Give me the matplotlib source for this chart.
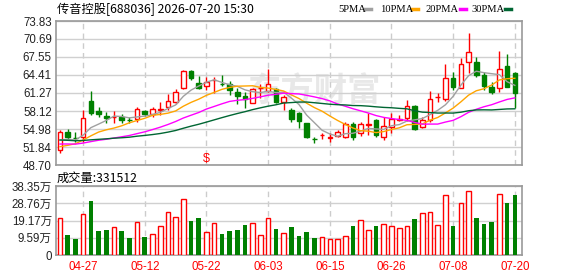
import numpy as np
import pandas as pd
import matplotlib
matplotlib.use('Agg')
import matplotlib.pyplot as plt
from matplotlib.patches import Rectangle
from matplotlib.lines import Line2D

plt.rcParams['font.family'] = ['Liberation Sans', 'Noto Sans CJK SC', 'DejaVu Sans']

# closes before the visible window, only used to feed the moving averages
prior_close = [55.2, 55.8, 55.0, 54.6, 54.9, 54.3, 53.8, 54.2, 53.6, 53.2,
               53.5, 53.9, 53.1, 52.6, 52.9, 53.4, 52.8, 52.2, 52.0, 51.9,
               51.2, 50.6, 50.3, 50.5, 51.0, 52.9, 54.1, 52.6, 51.19]

opens = [51.32, 54.51, 53.36, 53.53, 59.87, 58.18, 57.25, 57.13, 57.13, 56.50,
         56.67, 58.12, 57.55, 58.30, 58.77, 59.75, 62.08, 65.16, 62.96, 62.40,
         63.53, 62.84, 62.75, 61.44, 60.74, 59.57, 62.14, 61.67, 61.91, 59.75,
         58.30, 57.83, 55.98, 53.18, 53.85, 53.45, 53.81, 53.64, 55.80, 54.23,
         55.75, 56.55, 53.59, 55.28, 56.59, 56.85, 59.00, 55.33, 56.47, 60.51,
         60.22, 63.83, 62.19, 66.62, 66.62, 64.41, 62.36, 62.08, 65.98, 64.81]
highs = [54.81, 54.93, 54.51, 58.30, 61.61, 58.87, 57.90, 58.12, 57.60, 57.02,
         58.87, 58.30, 58.87, 59.75, 61.09, 61.91, 65.28, 65.28, 64.23, 64.00,
         64.00, 64.41, 63.41, 62.08, 61.49, 62.08, 62.84, 65.40, 62.08, 60.92,
         58.59, 58.00, 56.03, 53.64, 54.34, 54.23, 54.81, 56.26, 56.26, 56.26,
         57.72, 56.67, 57.13, 57.72, 57.34, 60.13, 59.17, 57.13, 61.61, 61.26,
         66.33, 64.88, 67.32, 71.68, 67.49, 64.98, 63.24, 68.59, 68.07, 64.98]
lows = [50.74, 53.06, 52.77, 52.77, 57.43, 57.02, 55.98, 55.98, 56.08, 55.98,
        56.26, 57.30, 57.13, 57.43, 58.30, 59.29, 61.91, 63.53, 61.91, 61.79,
        61.21, 62.49, 60.92, 59.34, 58.59, 59.47, 60.39, 61.49, 59.57, 58.30,
        56.26, 55.10, 53.36, 52.59, 53.18, 52.77, 53.64, 53.46, 53.06, 53.76,
        53.93, 53.64, 53.06, 54.34, 56.38, 56.38, 54.81, 55.10, 56.12, 59.75,
        59.87, 61.79, 62.08, 64.70, 64.00, 61.79, 61.09, 61.49, 62.26, 58.70]
closes = [54.51, 53.64, 53.36, 56.85, 57.72, 57.60, 56.85, 57.13, 56.55, 56.50,
          58.42, 57.55, 58.42, 58.56, 59.87, 61.49, 65.10, 63.83, 62.14, 63.24,
          63.53, 62.84, 61.74, 60.79, 60.17, 61.91, 62.14, 62.78, 59.75, 60.51,
          56.78, 56.43, 53.53, 53.18, 53.85, 53.59, 54.41, 55.80, 53.53, 55.80,
          55.89, 53.93, 55.42, 56.73, 56.76, 59.00, 54.98, 56.55, 60.17, 60.51,
          63.83, 62.36, 66.27, 68.47, 64.41, 62.54, 61.49, 65.40, 62.36, 61.21]
# volume in 万 shares
volume = [20.4, 11.1, 8.9, 22.6, 30.0, 13.3, 13.9, 15.4, 13.3, 9.4,
          18.2, 10.0, 11.5, 15.9, 23.7, 20.9, 30.9, 18.9, 20.6, 12.6,
          17.6, 11.7, 13.3, 13.9, 16.7, 17.6, 10.9, 20.4, 14.4, 12.0,
          15.6, 10.6, 12.8, 9.4, 9.8, 8.9, 8.9, 10.4, 16.1, 19.5,
          13.9, 16.1, 17.0, 15.9, 15.0, 15.9, 20.0, 23.2, 23.9, 16.5,
          33.2, 16.1, 28.9, 35.4, 20.6, 17.2, 18.3, 33.9, 29.1, 33.1512]

date_labels = ['04-27', '05-12', '05-22', '06-03', '06-15', '06-26', '07-08', '07-20']
date_pos = [3, 11, 19, 27, 35, 43, 51, 59]
price_ticks = [48.70, 51.84, 54.98, 58.12, 61.27, 64.41, 67.55, 70.69, 73.83]
vol_ticks = [0, 9.59, 19.17, 28.76, 38.35]
vol_tick_labels = ['0', '9.59万', '19.17万', '28.76万', '38.35万']
ma_windows = [5, 10, 20, 30]
ma_names = ['5PMA', '10PMA', '20PMA', '30PMA']
ma_colors = ['#a0a0a0', '#ffa500', '#ff00ff', '#006633']

RED = '#ff0000'
GREEN = '#008000'
W = 0.6

n = len(closes)
x = np.arange(n)
up = []
for i in range(n):
    if closes[i] != opens[i]:
        up.append(closes[i] > opens[i])
    else:
        prev = closes[i - 1] if i > 0 else prior_close[-1]
        up.append(closes[i] >= prev)

fig = plt.figure(figsize=(5.78, 2.76), dpi=100)
ax = fig.add_axes([56/578, 1-165/276, 466.3/578, 144/276])
axv = fig.add_axes([56/578, 1-255/276, 466.3/578, 69/276])

for a in (ax, axv):
    a.set_xlim(-0.52, 59.97)
    for s in a.spines.values():
        s.set_color('#999999')
        s.set_linewidth(1.2)
    a.set_xticks(date_pos)
    a.grid(axis='y', color='#d0d0d0', lw=1, ls='-')
    a.grid(axis='x', color='#cccccc', lw=1, ls=(0, (4, 3)))
    a.set_axisbelow(True)
    a.tick_params(length=0, labelsize=8.3, colors='#222222', pad=3)

# price panel
ax.set_ylim(48.70, 73.83)
ax.set_yticks(price_ticks)
ax.set_yticklabels(['%.2f' % t for t in price_ticks])
ax.set_xticklabels([])

ax.text(0.553, 0.51, '东方财富', transform=ax.transAxes, ha='center', va='center',
        fontsize=24, fontweight='bold', color='#e8e8e8', family=['Noto Sans CJK SC'], zorder=0)

for i in range(n):
    c = RED if up[i] else GREEN
    ax.vlines(x[i], lows[i], highs[i], color=c, lw=1, zorder=3)
    lo, hi = min(opens[i], closes[i]), max(opens[i], closes[i])
    if hi - lo < 0.05:
        ax.hlines(closes[i], x[i] - W/2, x[i] + W/2, color=c, lw=1, zorder=4)
    else:
        fc = 'white' if up[i] else GREEN
        ax.add_patch(Rectangle((x[i] - W/2, lo), W, hi - lo, facecolor=fc, edgecolor=c, lw=1, zorder=4))

allc = pd.Series(prior_close + closes)
for w, col in zip(ma_windows, ma_colors):
    ma = allc.rolling(w).mean().values[len(prior_close):]
    ax.plot(x, ma, color=col, lw=1, zorder=5)

ax.text(19, 49.75, '$', color=RED, ha='center', va='center', fontsize=9, zorder=6)

# volume panel
axv.set_ylim(0, 38.35)
axv.set_yticks(vol_ticks)
axv.set_yticklabels(vol_tick_labels)
axv.set_xticklabels(date_labels, color=RED)
axv.tick_params(axis='x', pad=4)
for i in range(n):
    if up[i]:
        axv.bar(x[i], volume[i], W, facecolor='white', edgecolor=RED, lw=1, zorder=3)
    else:
        axv.bar(x[i], volume[i], W, color=GREEN, zorder=3)

# header texts
fig.text(57/578, 1-9/276, '传音控股[688036] 2026-07-20 15:30', va='center', fontsize=8.8,
         family=['Noto Sans CJK SC', 'DejaVu Sans'])
fig.text(57/578, 1-178/276, '成交量:%d' % round(volume[-1] * 10000), va='center', fontsize=8.8,
         family=['Noto Sans CJK SC', 'DejaVu Sans'])

leg_text_x = [338, 380, 425, 471]
leg_dash_x = [365, 412, 460, 505]
for name, col, tx, dx in zip(ma_names, ma_colors, leg_text_x, leg_dash_x):
    fig.text(tx/578, 1-9/276, name, va='center', fontsize=7.6, family=['Liberation Serif'])
    fig.add_artist(Line2D([dx/578, (dx + 6)/578], [1-9/276, 1-9/276], color=col, lw=2.5))

fig.savefig('out.png', dpi=100)
